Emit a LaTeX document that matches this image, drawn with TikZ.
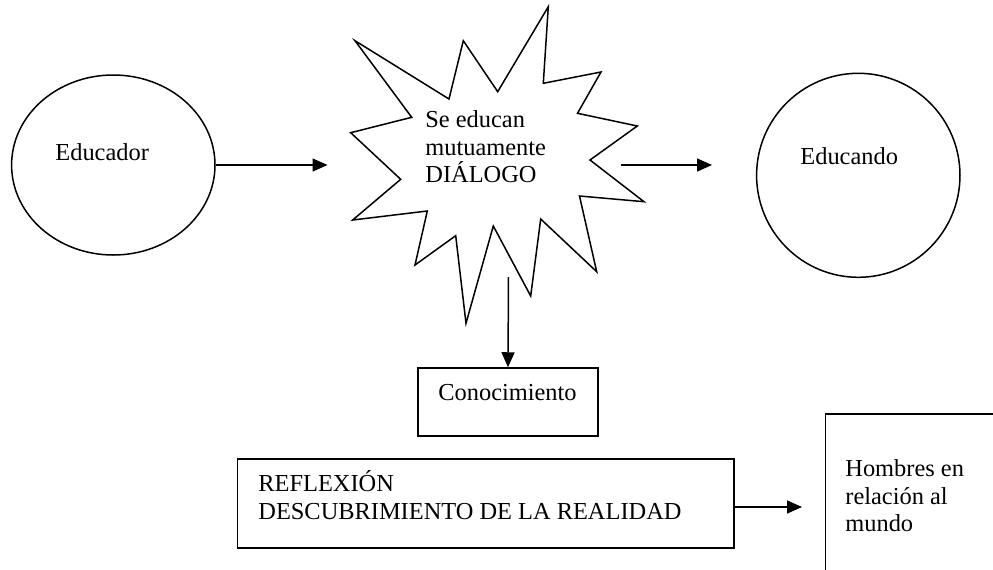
\documentclass[tikz,border=0pt]{standalone}
\usepackage{fontspec}
\setmainfont{Liberation Serif}
\usetikzlibrary{shapes.geometric,arrows.meta,calc}
\newcommand{\tstrut}{\rule{0pt}{11pt}}
\begin{document}
\begin{tikzpicture}[x=0.5pt,y=-0.5pt,
  every node/.style={font=\fontsize{12.2}{13.8}\selectfont},
  shapeline/.style={draw=black,line width=0.75pt},
  txt/.style={inner sep=0pt,align=left,anchor=north west},
  arr/.style={line width=0.75pt,-{Triangle[length=7.5pt,width=6.5pt]}}]
\useasboundingbox (0,0) rectangle (993,569);
\clip (0,0) rectangle (993,569);

% Educador
\node[shapeline,ellipse,inner sep=0pt,minimum width=101.7pt,minimum height=90pt] (edu) at (113.3,165) {};
\node[txt] (edutxt) at (55,138) {\tstrut Educador};

% Educando
\node[shapeline,ellipse,inner sep=0pt,minimum width=101.7pt,minimum height=102pt] (edc) at (858.3,175.3) {};
\node[txt] (edctxt) at (800,142) {\tstrut Educando};

% starburst
\draw[line width=0.75pt,line join=miter]
 (548.3,6.7) -- (543.3,83.3) -- (601,72) -- (577.5,113.3) -- (637.3,126)
 -- (590,160) -- (644,201.7) -- (579.5,196) -- (596.7,271.7) -- (540.7,219)
 -- (530.7,296) -- (493.3,226) -- (466,323.3) -- (455.7,235.7) -- (415,265)
 -- (427.3,211) -- (352.7,220) -- (400.7,179.3) -- (350.7,132.7) -- (411.7,117.3)
 -- (355,40.7) -- (449,99) -- (463.3,40.7) -- (497.7,91.7) -- cycle;
\node[txt] (bursttxt) at (425,105) {\tstrut Se educan\\mutuamente\\DIÁLOGO};

\coordinate (burstin) at (327.5,165);
\coordinate (burstout) at (621,165);
\coordinate (burstend) at (712,165);
\coordinate (burstdown) at (508.5,277);

% Conocimiento
\node[shapeline,rectangle,inner sep=0pt,minimum width=90pt,minimum height=34pt] (con) at (508,402) {};
\node[txt] (contxt) at (438,378) {\tstrut Conocimiento};

% Reflexion
\node[shapeline,rectangle,inner sep=0pt,minimum width=248.35pt,minimum height=44.5pt] (refl) at (485.7,503.5) {};
\node[txt] (refltxt) at (258,469) {\tstrut REFLEXIÓN\\DESCUBRIMIENTO DE LA REALIDAD};
\coordinate (hombin) at (802,507);

% Hombres box (runs past the edges)
\node[shapeline,rectangle,inner sep=0pt,minimum width=100pt,minimum height=100pt,anchor=north west] (homb) at (824.5,413) {};
\node[txt] (hombtxt) at (845,454) {\tstrut Hombres en\\relación al\\mundo};

% connectors
\draw[arr] (edu.east) -- (burstin);
\draw[arr] (burstout) -- (burstend);
\draw[arr] (burstdown) -- (con.north);
\draw[arr] (refl.east |- hombin) -- (hombin);
\end{tikzpicture}
\end{document}
